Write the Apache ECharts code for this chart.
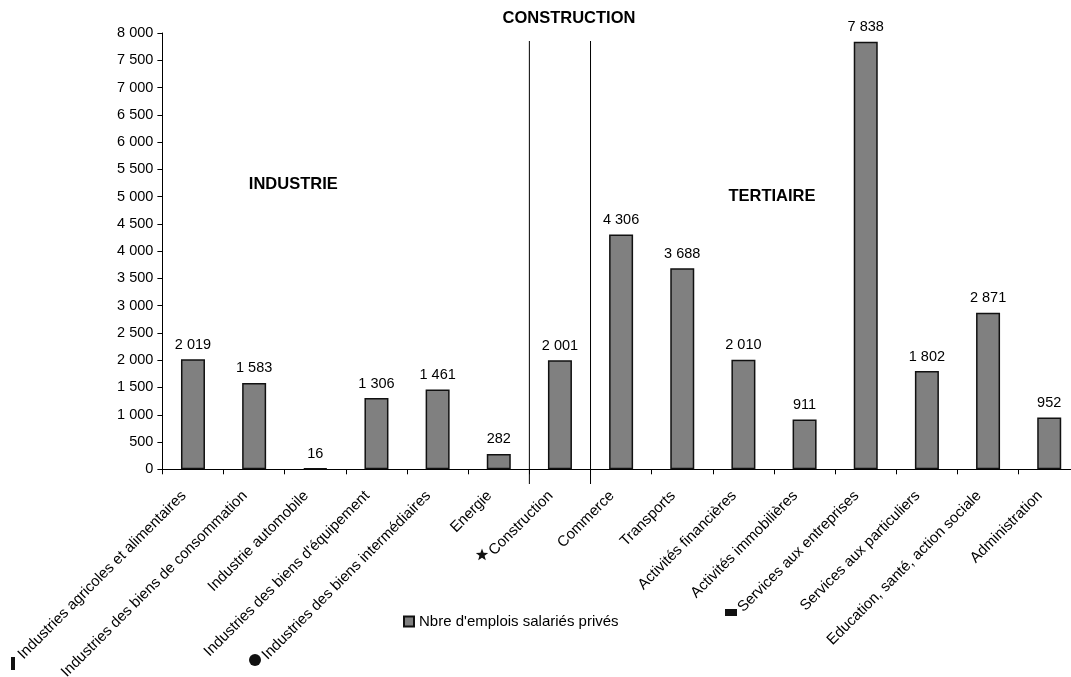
<!DOCTYPE html>
<html>
<head>
<meta charset="utf-8">
<script src="https://cdn.jsdelivr.net/npm/echarts@6/dist/echarts.min.js"></script>
<style>html,body{margin:0;padding:0;background:#fff}#c{width:1071px;height:677px}</style>
</head>
<body>
<div id="c"></div>
<script>
var categories = ["Industries agricoles et alimentaires","Industries des biens de consommation","Industrie automobile","Industries des biens d'équipement","Industries des biens intermédiaires","Energie","Construction","Commerce","Transports","Activités financières","Activités immobilières","Services aux entreprises","Services aux particuliers","Education, santé, action sociale","Administration"];
var values = [2019,1583,16,1306,1461,282,2001,4306,3688,2010,911,7838,1802,2871,952];
var seriesName = "Nbre d'emplois salariés privés";
var sectorLabels = ["INDUSTRIE","CONSTRUCTION","TERTIAIRE"];

function fmt(v){ return String(v).replace(/\B(?=(\d{3})+(?!\d))/g,' '); }
var FONT = "'Liberation Sans', Arial, sans-serif";
var GRID_W = 917.4;
var chart = echarts.init(document.getElementById('c'));
chart.setOption({
  animation:false,
  textStyle:{fontFamily:FONT,color:'#000'},
  grid:{left:162.4,width:GRID_W,top:33,bottom:207.7,containLabel:false,outerBoundsMode:'none'},
  legend:{left:398,top:609,itemWidth:10,itemHeight:10,itemGap:4,
    textStyle:{fontFamily:FONT,fontSize:15,color:'#000'},
    data:[{name:seriesName,icon:'rect'}]},
  xAxis:{type:'category',data:categories,
    axisLine:{lineStyle:{color:'#000',width:1}},
    axisTick:{show:true,alignWithLabel:false,length:5,lineStyle:{color:'#000'}},
    axisLabel:{interval:0,rotate:45,fontSize:15,color:'#000',fontFamily:FONT,margin:15,padding:[0,13,0,0]}},
  yAxis:{type:'value',min:0,max:8000,interval:500,
    axisLine:{show:true,lineStyle:{color:'#000'}},
    axisTick:{show:true,length:5,lineStyle:{color:'#000'}},
    splitLine:{show:false},
    axisLabel:{fontSize:14.5,color:'#000',fontFamily:FONT,margin:9,formatter:fmt}},
  series:[{type:'bar',name:seriesName,data:values,barWidth:24,
    itemStyle:{color:'#808080',borderColor:'#111',borderWidth:1.5},
    label:{show:true,position:'top',distance:7,fontSize:14.5,color:'#000',fontFamily:FONT,
      formatter:function(p){return fmt(p.value);}}}]
});

var half = GRID_W/categories.length/2;
function px(i){ return chart.convertToPixel({xAxisIndex:0}, categories[i]); }
var xc = px(6);
var x1 = xc - half, x2 = xc + half;
var tStyle = {fontFamily:FONT,fontSize:16.5,fontWeight:'bold',fill:'#000',align:'center',verticalAlign:'middle'};
var star = [];
for (var k=0;k<10;k++){ var r = k%2===0?6.5:2.7; var a = -Math.PI/2 + k*Math.PI/5; star.push([482+r*Math.cos(a), 555+r*Math.sin(a)]); }
chart.setOption({graphic:[
  {type:'line',shape:{x1:x1,y1:41,x2:x1,y2:484},style:{stroke:'#000',lineWidth:1}},
  {type:'line',shape:{x1:x2,y1:41,x2:x2,y2:484},style:{stroke:'#000',lineWidth:1}},
  {type:'text',x:px(2)-22,y:184,style:Object.assign({text:sectorLabels[0]},tStyle)},
  {type:'text',x:xc+9,y:18,style:Object.assign({text:sectorLabels[1]},tStyle)},
  {type:'text',x:(px(9)+px(10))/2-2,y:196,style:Object.assign({text:sectorLabels[2]},tStyle)},
  {type:'rect',shape:{x:11,y:657,width:4,height:13},style:{fill:'#111'}},
  {type:'circle',shape:{cx:255,cy:660,r:6},style:{fill:'#111'}},
  {type:'polygon',shape:{points:star},style:{fill:'#111'}},
  {type:'rect',shape:{x:725,y:609,width:12,height:7},style:{fill:'#111'}}
]});
</script>
</body>
</html>
